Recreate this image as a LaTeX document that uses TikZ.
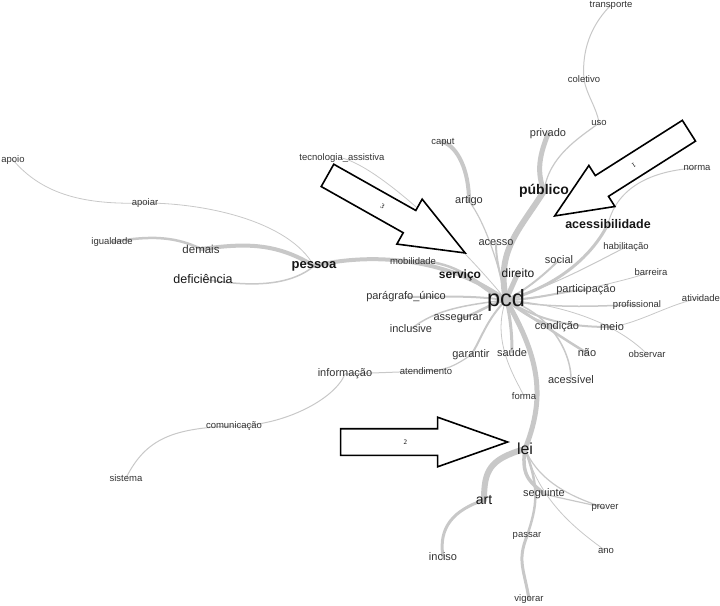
\documentclass[tikz,border=0pt]{standalone}
\usepackage{fontspec}
\setmainfont{Liberation Sans}
\newfontfamily\tagfont{Liberation Serif}
\usetikzlibrary{shapes.arrows,backgrounds}
\definecolor{Ink}{HTML}{333333}
\definecolor{Dark}{HTML}{161616}
\definecolor{Wire}{HTML}{C8C8C8}
\tikzset{
  minor/.style={text=Ink,inner sep=0pt,font=\fontsize{9.5}{10}\selectfont},
  plain/.style={text=Ink,inner sep=0pt,font=\fontsize{11}{12}\selectfont},
  major/.style={text=Dark,inner sep=0pt,font=\fontsize{12.5}{14}\selectfont},
  heavy/.style={text=Dark,inner sep=0pt,font=\fontsize{12.5}{14}\selectfont\bfseries},
  hub/.style={text=Dark,inner sep=0pt,font=\fontsize{23.5}{26}\selectfont},
  edge/.style={draw=Wire,line cap=round},
  pointer/.style={single arrow,draw=black,fill=white,line width=1.6pt,anchor=tip,single arrow head indent=0pt,inner xsep=0pt,text height=4.5pt,text depth=0pt,font=\fontsize{7}{7}\selectfont\tagfont}
}
\begin{document}
\begin{tikzpicture}[x=1pt,y=-1pt]
  \useasboundingbox (0,0) rectangle (720,605);
  % words
  \node[minor] (transporte) at (611,5) {transporte};
  \node[minor] (coletivo) at (584,79) {coletivo};
  \node[minor] (uso) at (599,123) {uso};
  \node[plain] (privado) at (548,134) {privado};
  \node[minor] (caput) at (443,142) {caput};
  \node[minor] (tecnologia) at (342,158) {tecnologia\_assistiva};
  \node[minor] (apoio) at (13,160) {apoio};
  \node[minor] (norma) at (697,168) {norma};
  \node[heavy,font=\fontsize{14}{16}\selectfont\bfseries] (publico) at (544,191) {público};
  \node[plain] (artigo) at (469,201) {artigo};
  \node[minor] (apoiar) at (145,203) {apoiar};
  \node[heavy] (acessib) at (608,224) {acessibilidade};
  \node[minor] (igualdade) at (112,242) {igualdade};
  \node[plain,font=\fontsize{11.5}{13}\selectfont] (demais) at (201,249) {demais};
  \node[plain] (acesso) at (496,243) {acesso};
  \node[minor] (habilitacao) at (626,247) {habilitação};
  \node[plain] (social) at (559,260) {social};
  \node[minor] (mobilidade) at (413,261) {mobilidade};
  \node[heavy,font=\fontsize{13}{15}\selectfont\bfseries] (pessoa) at (314,266) {pessoa};
  \node[minor] (barreira) at (651,272) {barreira};
  \node[major,font=\fontsize{12}{14}\selectfont] (direito) at (518,273) {direito};
  \node[heavy,font=\fontsize{12}{14}\selectfont\bfseries] (servico) at (460,275) {serviço};
  \node[major] (deficiencia) at (203,279) {deficiência};
  \node[plain] (participacao) at (586,290) {participação};
  \node[plain] (paragrafo) at (406,297) {parágrafo\_único};
  \node[minor] (atividade) at (701,298) {atividade};
  \node[hub] (pcd) at (506,300) {pcd};
  \node[minor] (profissional) at (637,305) {profissional};
  \node[plain] (assegurar) at (458,319) {assegurar};
  \node[plain] (condicao) at (557,327) {condição};
  \node[plain] (meio) at (612,327) {meio};
  \node[plain] (inclusive) at (411,329) {inclusive};
  \node[plain] (saude) at (512,352) {saúde};
  \node[plain] (nao) at (587,353) {não};
  \node[minor] (observar) at (647,354) {observar};
  \node[plain] (garantir) at (471,355) {garantir};
  \node[minor] (atendimento) at (426,371) {atendimento};
  \node[plain] (informacao) at (345,374) {informação};
  \node[plain] (acessivel) at (571,379) {acessível};
  \node[minor] (forma) at (524,396) {forma};
  \node[minor] (comunicacao) at (234,426) {comunicação};
  \node[major,font=\fontsize{16}{18}\selectfont] (lei) at (525,449) {lei};
  \node[minor] (sistema) at (126,478) {sistema};
  \node[plain] (seguinte) at (544,494) {seguinte};
  \node[major,font=\fontsize{14}{16}\selectfont] (art) at (484,500) {art};
  \node[minor] (prover) at (605,508) {prover};
  \node[minor] (passar) at (527,536) {passar};
  \node[minor] (ano) at (606,551) {ano};
  \node[plain] (inciso) at (443,557) {inciso};
  \node[minor] (vigorar) at (529,599) {vigorar};
  % links
  \begin{scope}[on background layer]
    \draw[edge,line width=6pt] (pcd.center) .. controls +(-10,-50) and +(-25,40) .. (publico.center);
    \draw[edge,line width=5pt] (publico.center) .. controls +(-8,-20) and +(-8,20) .. (privado.center);
    \draw[edge,line width=1.2pt] (publico.center) .. controls +(5,-35) and +(-20,15) .. (uso.center);
    \draw[edge,line width=1pt] (uso.center) .. controls +(-2,-15) and +(2,15) .. (coletivo.center);
    \draw[edge,line width=1pt] (coletivo.center) .. controls +(-3,-35) and +(-15,15) .. (transporte.center);
    \draw[edge,line width=1.2pt] (pcd.center) .. controls +(-8,-40) and +(15,20) .. (artigo.center);
    \draw[edge,line width=4pt] (artigo.center) .. controls +(0,-30) and +(15,5) .. (caput.center);
    \draw[edge,line width=2pt] (pcd.center) .. controls +(-5,-25) and +(0,20) .. (acesso.center);
    \draw[edge,line width=5pt] (pcd.center) -- (direito.center);
    \draw[edge,line width=2pt] (pcd.center) .. controls +(20,-10) and +(-15,15) .. (social.center);
    \draw[edge,line width=3pt] (pcd.center) .. controls +(40,-10) and +(-20,40) .. (acessib.center);
    \draw[edge,line width=1pt] (acessib.center) .. controls +(10,-40) and +(-40,2) .. (norma.center);
    \draw[edge,line width=1pt] (pcd.center) .. controls +(50,-15) and +(-30,15) .. (habilitacao.center);
    \draw[edge,line width=.8pt] (pcd.center) .. controls +(60,-5) and +(-30,10) .. (barreira.center);
    \draw[edge,line width=2pt] (pcd.center) .. controls +(30,0) and +(-20,0) .. (participacao.center);
    \draw[edge,line width=1.5pt] (pcd.center) .. controls +(50,10) and +(-30,0) .. (profissional.center);
    \draw[edge,line width=2pt] (pcd.center) .. controls +(40,25) and +(-30,0) .. (meio.center);
    \draw[edge,line width=.8pt] (meio.center) .. controls +(30,-5) and +(-30,5) .. (atividade.center);
    \draw[edge,line width=.8pt] (pcd.center) .. controls +(60,5) and +(-30,-30) .. (observar.center);
    \draw[edge,line width=2.5pt] (pcd.center) .. controls +(20,15) and +(-20,-5) .. (condicao.center);
    \draw[edge,line width=2.5pt] (pcd.center) .. controls +(30,20) and +(-25,-15) .. (nao.center);
    \draw[edge,line width=1.5pt] (pcd.center) .. controls +(40,10) and +(0,-30) .. (acessivel.center);
    \draw[edge,line width=5pt] (pcd.center) .. controls +(35,60) and +(20,-50) .. (lei.center);
    \draw[edge,line width=.8pt] (pcd.center) .. controls +(-15,40) and +(-10,-20) .. (forma.center);
    \draw[edge,line width=3pt] (pcd.center) .. controls +(5,20) and +(0,-15) .. (saude.center);
    \draw[edge,line width=2pt] (pcd.center) .. controls +(-20,20) and +(10,-15) .. (garantir.center);
    \draw[edge,line width=1.2pt] (garantir.center) .. controls +(-15,10) and +(20,0) .. (atendimento.center);
    \draw[edge,line width=1pt] (atendimento.center) -- (informacao.center);
    \draw[edge,line width=1pt] (informacao.center) .. controls +(-10,25) and +(50,0) .. (comunicacao.center);
    \draw[edge,line width=1pt] (comunicacao.center) .. controls +(-60,2) and +(20,-40) .. (sistema.center);
    \draw[edge,line width=1.5pt] (pcd.center) .. controls +(-40,5) and +(25,-20) .. (inclusive.center);
    \draw[edge,line width=2.5pt] (pcd.center) .. controls +(-20,5) and +(20,-5) .. (assegurar.center);
    \draw[edge,line width=2pt] (pcd.center) .. controls +(-40,-5) and +(40,0) .. (paragrafo.center);
    \draw[edge,line width=3pt] (pcd.center) .. controls +(-25,-10) and +(20,5) .. (servico.center);
    \draw[edge,line width=2.5pt] (pcd.center) .. controls +(-40,-25) and +(40,0) .. (mobilidade.center);
    \draw[edge,line width=4pt] (pcd.center) .. controls +(-70,-50) and +(40,-10) .. (pessoa.center);
    \draw[edge,line width=.8pt] (pcd.center) .. controls +(-40,-50) and +(40,10) .. (tecnologia.center);
    \draw[edge,line width=4pt] (pessoa.center) .. controls +(-40,-25) and +(40,-5) .. (demais.center);
    \draw[edge,line width=2.5pt] (demais.center) .. controls +(-30,-15) and +(30,-5) .. (igualdade.center);
    \draw[edge,line width=1.5pt] (pessoa.center) .. controls +(-30,25) and +(30,5) .. (deficiencia.center);
    \draw[edge,line width=.8pt] (pessoa.center) .. controls +(-25,-45) and +(60,0) .. (apoiar.center);
    \draw[edge,line width=.8pt] (apoiar.center) .. controls +(-60,2) and +(30,35) .. (apoio.center);
    \draw[edge,line width=6pt] (lei.center) .. controls +(-35,10) and +(0,-30) .. (art.center);
    \draw[edge,line width=3pt] (art.center) .. controls +(-30,10) and +(-5,-30) .. (inciso.center);
    \draw[edge,line width=3.5pt] (lei.center) .. controls +(-5,30) and +(-10,-10) .. (seguinte.center);
    \draw[edge,line width=1.2pt] (seguinte.center) .. controls +(20,5) and +(-20,-5) .. (prover.center);
    \draw[edge,line width=1.2pt] (lei.center) .. controls +(15,35) and +(-30,-10) .. (prover.center);
    \draw[edge,line width=2.5pt] (lei.center) .. controls +(15,40) and +(10,-30) .. (passar.center);
    \draw[edge,line width=3pt] (passar.center) .. controls +(-10,25) and +(-5,-30) .. (vigorar.center);
    \draw[edge,line width=.8pt] (lei.center) .. controls +(15,50) and +(-35,-25) .. (ano.center);
  \end{scope}
  % pointers
  \node[pointer,minimum height=159pt,inner ysep=9.25pt,single arrow head extend=12pt,single arrow tip angle=47,rotate=212.4] (arrowA) at (553,217) {1};
  \node[pointer,minimum height=167pt,inner ysep=10.25pt,single arrow head extend=11.5pt,single arrow tip angle=39] (arrowB) at (510,442) {2};
  \node[pointer,minimum height=158pt,inner ysep=9.75pt,single arrow head extend=13pt,single arrow tip angle=44,rotate=-29.4] (arrowC) at (467,254) {3};
\end{tikzpicture}
\end{document}
